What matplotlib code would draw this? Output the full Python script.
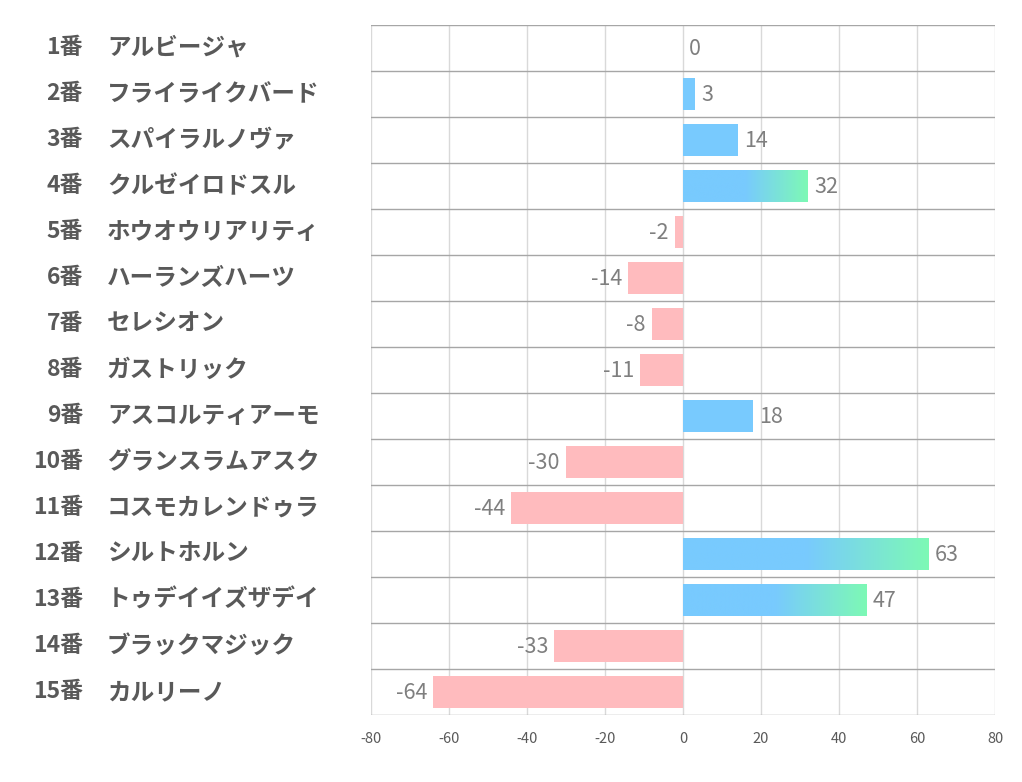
import numpy as np
import matplotlib
matplotlib.use('Agg')
import matplotlib.pyplot as plt
import matplotlib.transforms as mtransforms
from matplotlib.colors import LinearSegmentedColormap

plt.rcParams['font.family'] = ['Noto Sans CJK JP', 'DejaVu Sans']

numbers = ['1番', '2番', '3番', '4番', '5番', '6番', '7番', '8番', '9番', '10番',
           '11番', '12番', '13番', '14番', '15番']
names = ['アルビージャ', 'フライライクバード', 'スパイラルノヴァ', 'クルゼイロドスル',
         'ホウオウリアリティ', 'ハーランズハーツ', 'セレシオン', 'ガストリック',
         'アスコルティアーモ', 'グランスラムアスク', 'コスモカレンドゥラ', 'シルトホルン',
         'トゥデイイズザデイ', 'ブラックマジック', 'カルリーノ']
values = [0, 3, 14, 32, -2, -14, -8, -11, 18, -30, -44, 63, 47, -33, -64]
xticks = [-80, -60, -40, -20, 0, 20, 40, 60, 80]

blue = '#78CAFE'
green = '#7DF9B5'
pink = '#FFBBBE'
cmap = LinearSegmentedColormap.from_list('bg', [(0, blue), (0.5, blue), (1, green)])

fig = plt.figure(figsize=(10.22, 7.82), dpi=100)
ax = fig.add_axes([371 / 1022, 1 - 715 / 782, 624 / 1022, 690 / 782])

ypos = np.arange(len(values))
ax.set_xlim(-80, 80)
ax.set_ylim(len(values) - 0.5, -0.5)

bh = 0.7
for y, v in zip(ypos, values):
    if v == 0:
        continue
    if v < 0:
        ax.barh(y, v, height=bh, color=pink, zorder=2)
    elif v < 30:
        ax.barh(y, v, height=bh, color=blue, zorder=2)
    else:
        bar = ax.barh(y, v, height=bh, color='none', zorder=2)[0]
        grad = np.linspace(0, 1, 256).reshape(1, -1)
        im = ax.imshow(grad, cmap=cmap, aspect='auto', zorder=2,
                       extent=[0, v, y + bh / 2, y - bh / 2], interpolation='bilinear')
        im.set_clip_path(bar)

ax.set_xlim(-80, 80)
ax.set_ylim(len(values) - 0.5, -0.5)

# value labels
for y, v in zip(ypos, values):
    if v >= 0:
        ax.annotate(str(v), (v, y), xytext=(4.5, -1), textcoords='offset points',
                    ha='left', va='center', fontsize=15.5, color='#7F7F7F', zorder=3)
    else:
        ax.annotate(str(v), (v, y), xytext=(-4.5, -1), textcoords='offset points',
                    ha='right', va='center', fontsize=15.5, color='#7F7F7F', zorder=3)

# grid
for x in xticks:
    ax.axvline(x, color='#D9D9D9', lw=1, zorder=1)
for b in np.arange(-0.5, len(values)):
    ax.axhline(b, color='#A6A6A6', lw=1, zorder=1)

for s in ax.spines.values():
    s.set_visible(False)
ax.set_yticks([])
ax.set_xticks(xticks)
ax.set_xticklabels([str(t) for t in xticks])
ax.tick_params(axis='x', length=0, pad=12, labelsize=10.5, labelcolor='#595959')

# row labels
trans = mtransforms.blended_transform_factory(fig.transFigure, ax.transData)
for y, n, name in zip(ypos, numbers, names):
    ax.text(83 / 1022, y, n, transform=trans, ha='right', va='center',
            fontsize=16.5, fontweight='bold', color='#595959')
    ax.text(107 / 1022, y, name, transform=trans, ha='left', va='center',
            fontsize=17, fontweight='bold', color='#595959')

fig.savefig('out.png', dpi=100)
